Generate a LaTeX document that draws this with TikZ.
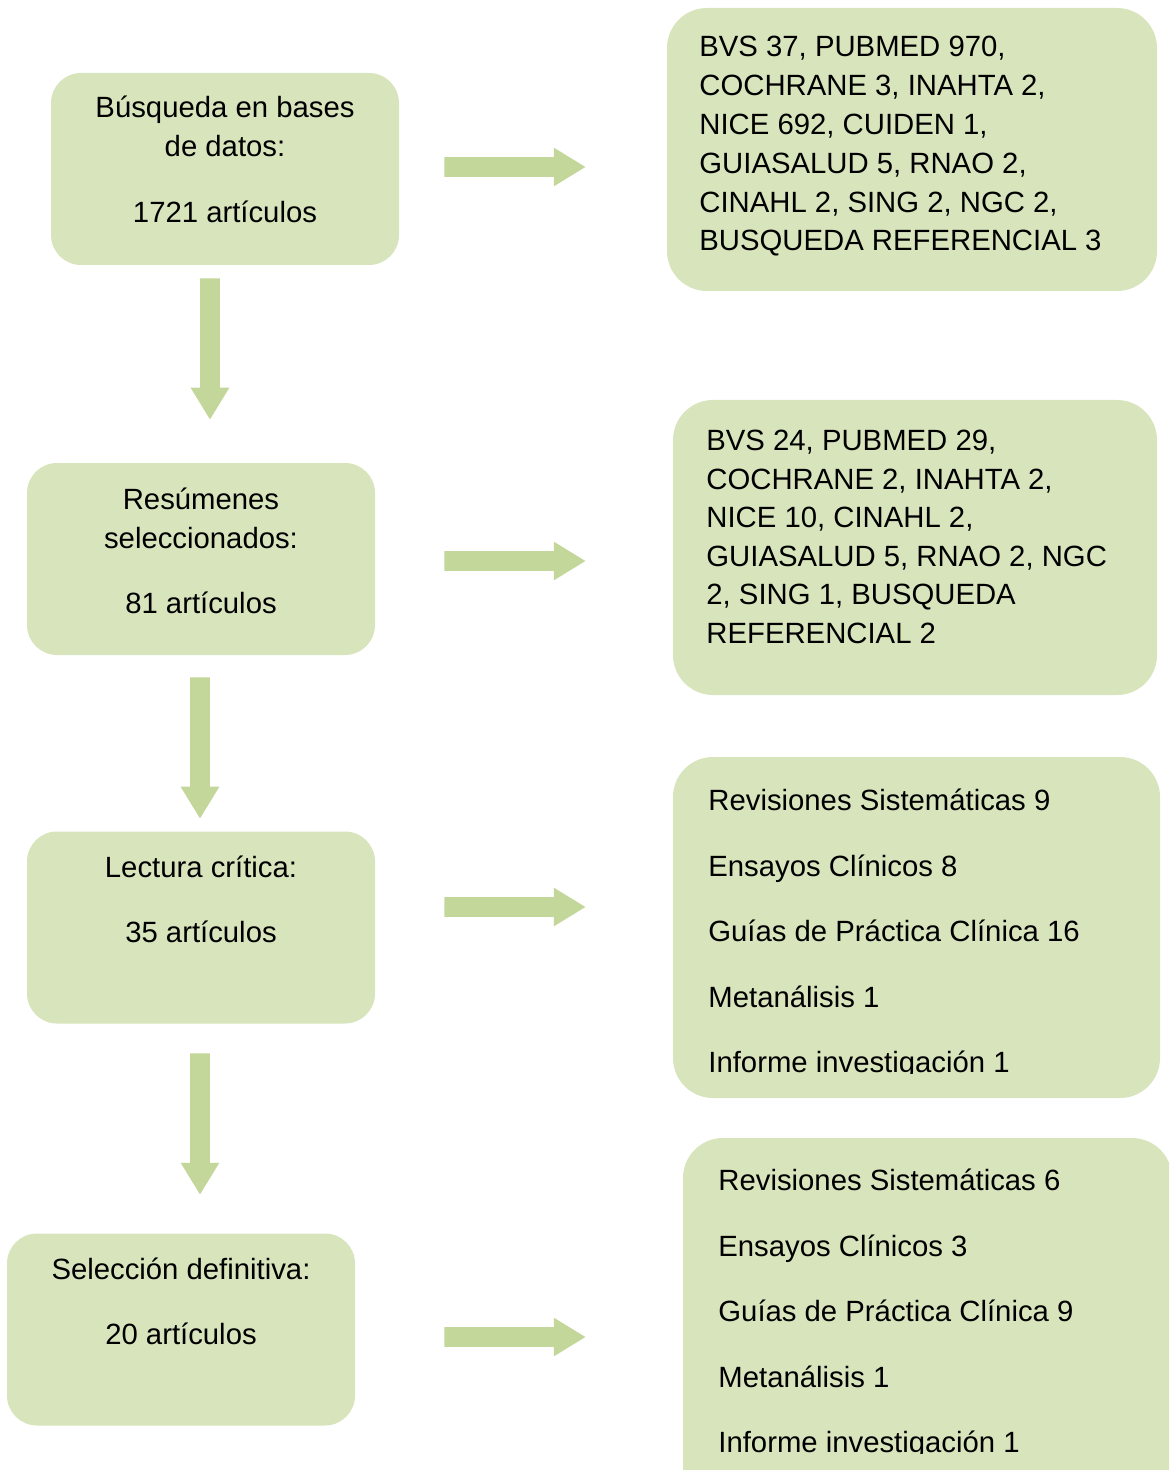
\documentclass[tikz,border=0pt]{standalone}
\usepackage{fontspec}
\setmainfont{Liberation Sans}
\usetikzlibrary{shapes.arrows}
\definecolor{boxg}{HTML}{D8E4BC}
\definecolor{arrg}{HTML}{C4D79B}
\begin{document}
\begin{tikzpicture}[x=0.5pt,y=-0.5pt,
  lbox/.style={rectangle, rounded corners=15pt, fill=boxg, draw=none, inner sep=0, minimum width=174pt, minimum height=96pt},
  rbox/.style={rectangle, rounded corners=20pt, fill=boxg, draw=none, inner sep=0},
  txt/.style={inner sep=0, font=\fontsize{14.65pt}{17pt}\selectfont, anchor=base},
  ltxt/.style={txt, anchor=base west},
  rarr/.style={single arrow, fill=arrg, draw=none, inner xsep=0, inner ysep=4.75pt, minimum height=70.5pt, minimum width=19pt, single arrow head extend=4.75pt, single arrow tip angle=63, anchor=tail},
  darr/.style={rarr, rotate=-90}]
\useasboundingbox (0,0) rectangle (1169,1470);
\clip (0,0) rectangle (1169,1470);

% left boxes
\node[lbox] (b1) at (225,169) {};
\node[txt] (b1t1) at (225,118) {Búsqueda en bases};
\node[txt] (b1t2) at (225,157) {de datos:};
\node[txt] (b1t3) at (225,223) {1721 artículos};

\node[lbox] (b2) at (201,559) {};
\node[txt] (b2t1) at (201,509) {Resúmenes};
\node[txt] (b2t2) at (201,548) {seleccionados:};
\node[txt] (b2t3) at (201,613) {81 artículos};

\node[lbox] (b3) at (201,927.5) {};
\node[txt] (b3t1) at (201,877) {Lectura crítica:};
\node[txt] (b3t2) at (201,942) {35 artículos};

\node[lbox] (b4) at (181,1329.5) {};
\node[txt] (b4t1) at (181,1279) {Selección definitiva:};
\node[txt] (b4t2) at (181,1344) {20 artículos};

% right boxes
\node[rbox, minimum width=245pt, minimum height=141.5pt] (r1) at (912,149.5) {};
\node[ltxt] (r1t1) at (699,57) {BVS 37, PUBMED 970,};
\node[ltxt] (r1t2) at (699,95.8) {COCHRANE 3, INAHTA 2,};
\node[ltxt] (r1t3) at (699,134.6) {NICE 692, CUIDEN 1,};
\node[ltxt] (r1t4) at (699,173.4) {GUIASALUD 5, RNAO 2,};
\node[ltxt] (r1t5) at (699,212.2) {CINAHL 2, SING 2, NGC 2,};
\node[ltxt] (r1t6) at (699,251) {BUSQUEDA REFERENCIAL 3};

\node[rbox, minimum width=242pt, minimum height=147.5pt] (r2) at (915,547.5) {};
\node[ltxt] (r2t1) at (706,451) {BVS 24, PUBMED 29,};
\node[ltxt] (r2t2) at (706,489.4) {COCHRANE 2, INAHTA 2,};
\node[ltxt] (r2t3) at (706,527.8) {NICE 10, CINAHL 2,};
\node[ltxt] (r2t4) at (706,566.2) {GUIASALUD 5, RNAO 2, NGC};
\node[ltxt] (r2t5) at (706,604.6) {2, SING 1, BUSQUEDA};
\node[ltxt] (r2t6) at (706,643) {REFERENCIAL 2};

\node[rbox, minimum width=243.5pt, minimum height=170.5pt] (r3) at (916.5,927.5) {};
\node[ltxt] (r3t1) at (708,810) {Revisiones Sistemáticas 9};
\node[ltxt] (r3t2) at (708,876) {Ensayos Clínicos 8};
\node[ltxt] (r3t3) at (708,941) {Guías de Práctica Clínica 16};
\node[ltxt] (r3t4) at (708,1007) {Metanálisis 1};
\begin{scope}
\clip (650,1020) rectangle (1169,1073);
\node[ltxt] (r3t5) at (708,1072) {Informe investigación 1};
\end{scope}

\node[rbox, minimum width=244.5pt, minimum height=186pt] (r4) at (927.5,1324) {};
\node[ltxt] (r4t1) at (718,1190) {Revisiones Sistemáticas 6};
\node[ltxt] (r4t2) at (718,1256) {Ensayos Clínicos 3};
\node[ltxt] (r4t3) at (718,1321) {Guías de Práctica Clínica 9};
\node[ltxt] (r4t4) at (718,1387) {Metanálisis 1};
\begin{scope}
\clip (650,1400) rectangle (1169,1453);
\node[ltxt] (r4t5) at (718,1452) {Informe investigación 1};
\end{scope}

% arrows
\node[rarr] (ar1) at (444,167) {};
\node[rarr] (ar2) at (444,561) {};
\node[rarr] (ar3) at (444,907) {};
\node[rarr] (ar4) at (444,1337) {};
\node[darr] (ad1) at (210,278) {};
\node[darr] (ad2) at (200,677) {};
\node[darr] (ad3) at (200,1053) {};
\end{tikzpicture}
\end{document}
